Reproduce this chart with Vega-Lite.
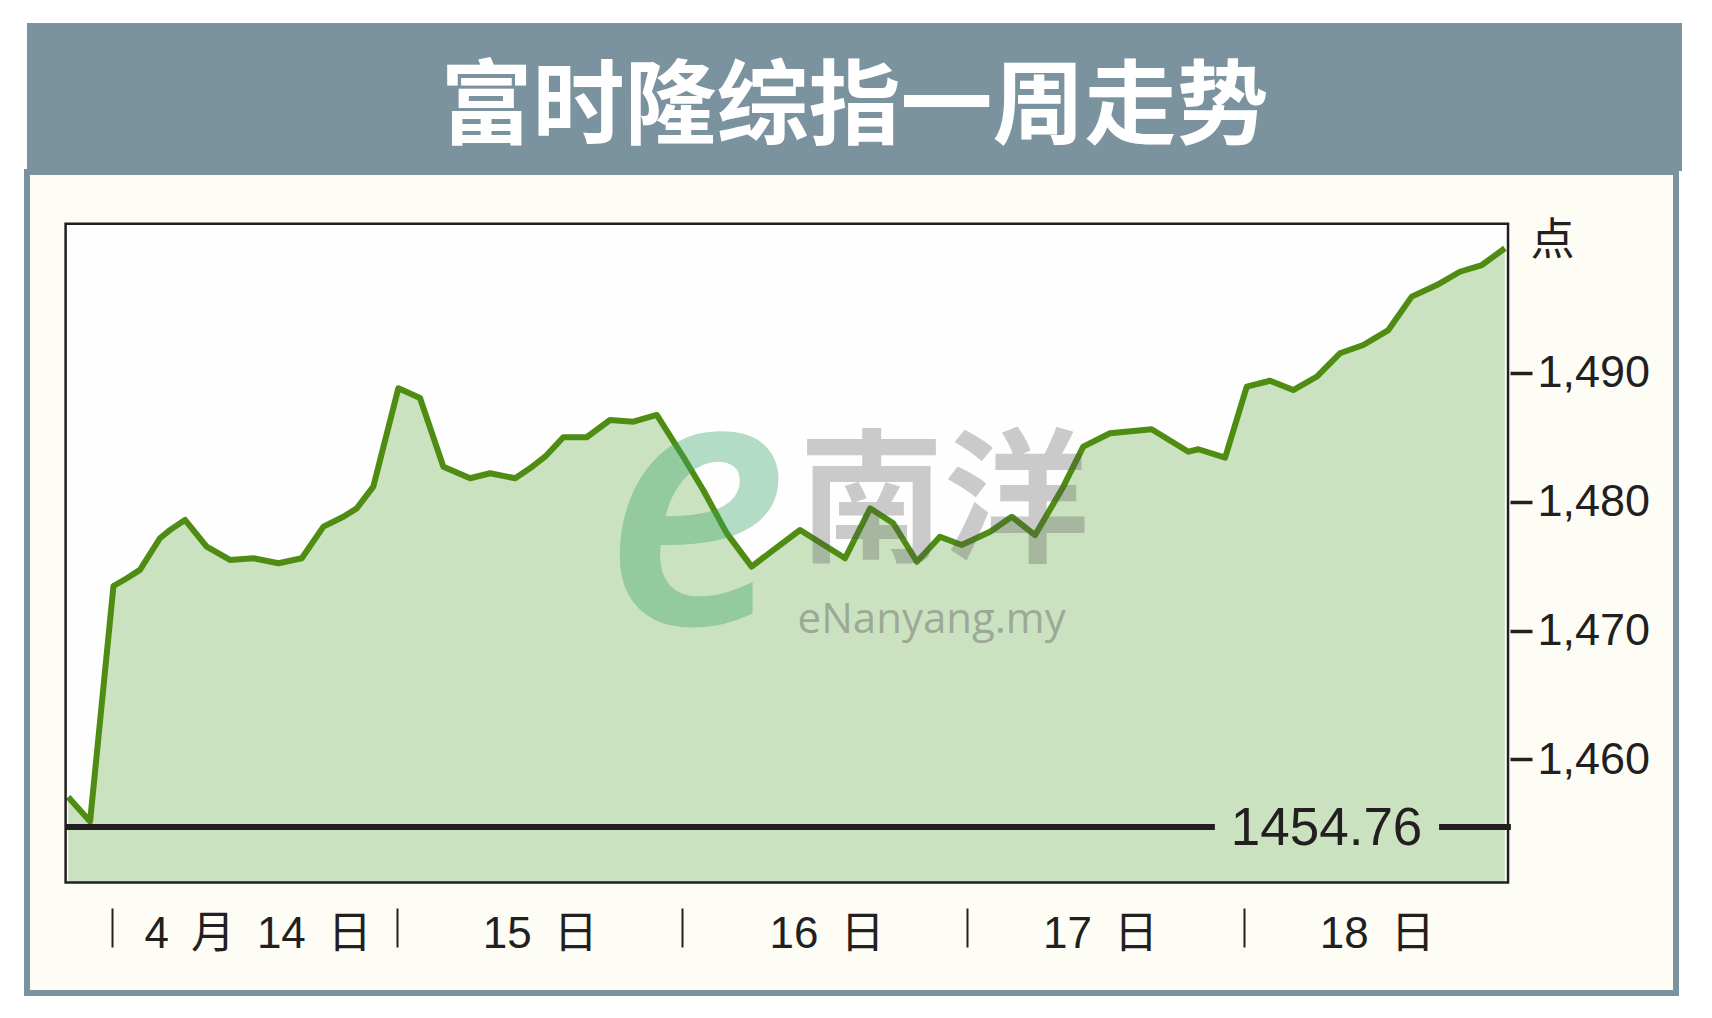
{
  "$schema": "https://vega.github.io/schema/vega-lite/v6.json",
  "background": "#ffffff",
  "padding": {"left": 24, "top": 23, "right": 0, "bottom": 0},
  "spacing": -2,
  "config": {"font": "Liberation Sans", "view": {"stroke": null}},
  "vconcat": [
    {
      "width": 1655,
      "height": 148,
      "view": {"fill": "#7b939e", "stroke": null},
      "data": {"values": [{"title": "富时隆综指一周走势"}]},
      "mark": {"type": "text", "font": "Noto Sans CJK SC", "fontWeight": "bold", "fontSize": 92, "color": "#ffffff", "align": "center", "baseline": "middle", "dy": 12},
      "encoding": {"text": {"field": "title"}}
    },
    {
      "width": 1649,
      "height": 821,
      "view": {"fill": "#fdfdf6", "stroke": "#7b939e", "strokeWidth": 6},
      "data": {"values": [
        {"t": -0.155, "v": 1457.1}, {"t": -0.078, "v": 1455.2}, {"t": 0.004, "v": 1473.45}, {"t": 0.051, "v": 1474.05},
        {"t": 0.097, "v": 1474.7}, {"t": 0.167, "v": 1477.15}, {"t": 0.203, "v": 1477.8}, {"t": 0.255, "v": 1478.57},
        {"t": 0.331, "v": 1476.5}, {"t": 0.413, "v": 1475.47}, {"t": 0.495, "v": 1475.6}, {"t": 0.583, "v": 1475.21},
        {"t": 0.665, "v": 1475.6}, {"t": 0.741, "v": 1478.05}, {"t": 0.811, "v": 1478.82}, {"t": 0.858, "v": 1479.47},
        {"t": 0.916, "v": 1481.15}, {"t": 1.004, "v": 1488.78}, {"t": 1.08, "v": 1488.02}, {"t": 1.162, "v": 1482.7},
        {"t": 1.256, "v": 1481.8}, {"t": 1.326, "v": 1482.19}, {"t": 1.414, "v": 1481.8}, {"t": 1.466, "v": 1482.57},
        {"t": 1.519, "v": 1483.47}, {"t": 1.583, "v": 1484.98}, {"t": 1.665, "v": 1484.98}, {"t": 1.747, "v": 1486.32},
        {"t": 1.829, "v": 1486.19}, {"t": 1.911, "v": 1486.71}, {"t": 2.004, "v": 1483.47}, {"t": 2.074, "v": 1480.89},
        {"t": 2.157, "v": 1477.53}, {"t": 2.244, "v": 1474.95}, {"t": 2.32, "v": 1476.24}, {"t": 2.414, "v": 1477.79},
        {"t": 2.572, "v": 1475.6}, {"t": 2.66, "v": 1479.47}, {"t": 2.741, "v": 1478.31}, {"t": 2.824, "v": 1475.33},
        {"t": 2.905, "v": 1477.27}, {"t": 2.981, "v": 1476.63}, {"t": 3.081, "v": 1477.66}, {"t": 3.157, "v": 1478.82},
        {"t": 3.239, "v": 1477.4}, {"t": 3.338, "v": 1481.15}, {"t": 3.408, "v": 1484.25}, {"t": 3.502, "v": 1485.29},
        {"t": 3.648, "v": 1485.6}, {"t": 3.777, "v": 1483.86}, {"t": 3.812, "v": 1484.05}, {"t": 3.906, "v": 1483.4},
        {"t": 3.982, "v": 1488.9}, {"t": 4.064, "v": 1489.36}, {"t": 4.145, "v": 1488.64}, {"t": 4.227, "v": 1489.67},
        {"t": 4.309, "v": 1491.49}, {"t": 4.391, "v": 1492.13}, {"t": 4.479, "v": 1493.29}, {"t": 4.561, "v": 1495.88},
        {"t": 4.649, "v": 1496.78}, {"t": 4.73, "v": 1497.81}, {"t": 4.807, "v": 1498.33}, {"t": 4.888, "v": 1499.63}
      ]},
      "layer": [
        {
          "data": {"values": [{"part": "frame"}]},
          "mark": {"type": "rect", "fill": "#fefefe"},
          "encoding": {
            "x": {"datum": -0.164, "type": "quantitative"},
            "x2": {"datum": 4.899},
            "y": {"datum": 1450.47, "type": "quantitative"},
            "y2": {"datum": 1501.53}
          }
        },
        {
          "mark": {"type": "area", "fill": "#cbe2c0", "opacity": 1},
          "encoding": {
            "x": {
              "field": "t", "type": "quantitative",
              "scale": {"domain": [-0.2995, 5.4886], "nice": false, "zero": false},
              "axis": {
                "orient": "bottom", "offset": -85, "title": null, "domain": false, "grid": false,
                "values": [0, 0.51, 1, 1.5, 2, 2.507, 3, 3.467, 3.973, 4.438],
                "tickSize": 39, "tickWidth": 2, "tickColor": "#231f20",
                "tickOpacity": {"condition": {"test": "datum.value == 0 || datum.value == 1 || datum.value == 2 || datum.value == 3 || datum.value == 3.973", "value": 1}, "value": 0},
                "labelExpr": "datum.value == 0.51 ? '4\u2002月\u200214\u2002日' : datum.value == 1.5 ? '15\u2002日' : datum.value == 2.507 ? '16\u2002日' : datum.value == 3.467 ? '17\u2002日' : datum.value == 4.438 ? '18\u2002日' : ''",
                "labelFont": "Liberation Sans, Noto Sans CJK SC", "labelFontSize": 44, "labelColor": "#231f20",
                "labelBaseline": "middle", "labelAlign": "center", "labelPadding": -13, "labelLimit": 0,
                "labelFlush": false, "labelOverlap": false, "labelBound": false
              }
            },
            "y": {
              "field": "v", "type": "quantitative",
              "scale": {"domain": [1441.899, 1505.543], "nice": false, "zero": false},
              "axis": {
                "orient": "right", "offset": -166, "domain": false, "grid": false,
                "values": [1460, 1470, 1480, 1490], "format": ",",
                "tickSize": 22, "tickWidth": 3.5, "tickColor": "#231f20",
                "labelFont": "Liberation Sans", "labelFontSize": 45, "labelColor": "#231f20",
                "labelPadding": 5, "labelBaseline": "middle", "labelAlign": "left", "labelLimit": 0,
                "title": "点", "titleAngle": 0, "titleFont": "Noto Sans CJK SC", "titleFontSize": 44,
                "titleFontWeight": "normal", "titleColor": "#231f20", "titleAlign": "left",
                "titleBaseline": "middle", "titleX": 20, "titleY": 69
              }
            },
            "y2": {"datum": 1450.47}
          }
        },
        {
          "mark": {"type": "line", "stroke": "#4f8c12", "strokeWidth": 6, "strokeJoin": "round"},
          "encoding": {
            "x": {"field": "t", "type": "quantitative"},
            "y": {"field": "v", "type": "quantitative"}
          }
        },
        {
          "data": {"values": [{"mark": "e"}]},
          "mark": {"type": "text", "font": "Open Sans", "fontStyle": "italic", "fontWeight": 600, "fontSize": 350, "color": "#3aa66a", "opacity": 0.38, "align": "center", "baseline": "alphabetic"},
          "encoding": {
            "x": {"datum": 2.048, "type": "quantitative"},
            "y": {"datum": 1470.5, "type": "quantitative"},
            "text": {"field": "mark"}
          }
        },
        {
          "data": {"values": [{"mark": "南洋"}]},
          "mark": {"type": "text", "font": "Noto Sans CJK SC", "fontWeight": "bold", "fontSize": 145, "color": "#555555", "opacity": 0.3, "align": "center", "baseline": "middle"},
          "encoding": {
            "x": {"datum": 2.919, "type": "quantitative"},
            "y": {"datum": 1479.6, "type": "quantitative"},
            "text": {"field": "mark"}
          }
        },
        {
          "data": {"values": [{"mark": "eNanyang.my"}]},
          "mark": {"type": "text", "font": "Open Sans", "fontSize": 42, "color": "#666666", "opacity": 0.45, "align": "center", "baseline": "middle"},
          "encoding": {
            "x": {"datum": 2.876, "type": "quantitative"},
            "y": {"datum": 1470.8, "type": "quantitative"},
            "text": {"field": "mark"}
          }
        },
        {
          "data": {"values": [{"close": 1454.76}]},
          "mark": {"type": "rule", "stroke": "#231f20", "strokeWidth": 6},
          "encoding": {
            "x": {"datum": -0.164, "type": "quantitative"},
            "x2": {"datum": 3.87},
            "y": {"field": "close", "type": "quantitative"}
          }
        },
        {
          "data": {"values": [{"close": 1454.76}]},
          "mark": {"type": "rule", "stroke": "#231f20", "strokeWidth": 6},
          "encoding": {
            "x": {"datum": 4.657, "type": "quantitative"},
            "x2": {"datum": 4.909},
            "y": {"field": "close", "type": "quantitative"}
          }
        },
        {
          "data": {"values": [{"close": 1454.76}]},
          "mark": {"type": "text", "font": "Liberation Sans", "fontSize": 53, "color": "#231f20", "align": "center", "baseline": "middle", "dy": 2},
          "encoding": {
            "x": {"datum": 4.262, "type": "quantitative"},
            "y": {"field": "close", "type": "quantitative"},
            "text": {"field": "close", "format": ".2f"}
          }
        },
        {
          "data": {"values": [{"part": "frame"}]},
          "mark": {"type": "rect", "filled": false, "fillOpacity": 0, "stroke": "#231f20", "strokeWidth": 2.5},
          "encoding": {
            "x": {"datum": -0.164, "type": "quantitative"},
            "x2": {"datum": 4.899},
            "y": {"datum": 1450.47, "type": "quantitative"},
            "y2": {"datum": 1501.53}
          }
        }
      ]
    }
  ]
}
